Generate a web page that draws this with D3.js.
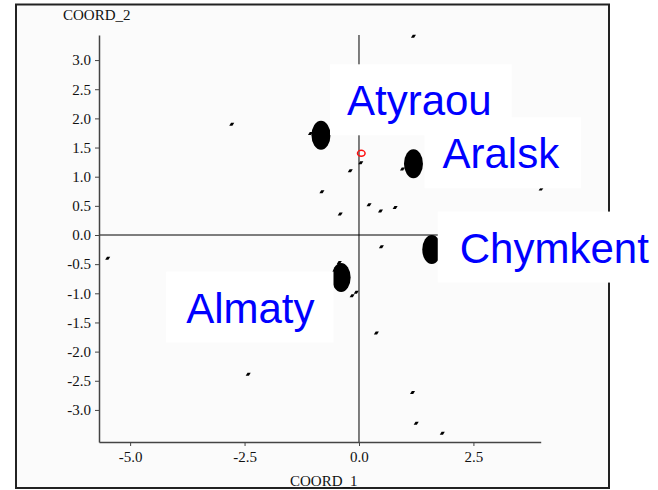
<!DOCTYPE html>
<html>
<head>
<meta charset="utf-8">
<script src="https://cdn.jsdelivr.net/npm/d3@7"></script>
<style>
  html, body { margin: 0; padding: 0; background: #ffffff; }
  svg { display: block; }
</style>
</head>
<body>
<svg id="chart" width="658" height="490"></svg>
<script>
// Object scores on the first two coordinates
const pointX = [1.19, -2.78, -0.81, -5.49, -2.42, 0.04, -0.19, -0.41, 0.22, 0.47, 0.79, 0.95,
                0.49, -0.43, -0.15, -0.06, 0.38, 1.17, 1.25, 1.82, 3.98, -1.06];
const pointY = [3.41, 1.90, 0.74, -0.40, -2.39, 1.24, 1.10, 0.36, 0.52, 0.41, 0.47, 1.13,
                -0.20, -0.47, -1.04, -0.98, -1.68, -2.70, -3.23, -3.40, 0.79, 1.74];

// Group centroids
const groupNames = ["Atyraou", "Aralsk", "Chymkent", "Almaty"];
const groupX = [-0.83, 1.19, 1.59, -0.39];
const groupY = [1.71, 1.22, -0.25, -0.73];

// Origin of the supplementary variable
const refX = [0.05];
const refY = [1.40];

// Tick values
const xTicks = [-5.0, -2.5, 0.0, 2.5];
const yTicks = [-3.0, -2.5, -2.0, -1.5, -1.0, -0.5, 0.0, 0.5, 1.0, 1.5, 2.0, 2.5, 3.0];
const xTitle = "COORD_1";
const yTitle = "COORD_2";

const svg = d3.select("#chart");

const x = d3.scaleLinear().domain([-5.68, 3.97]).range([99, 540.7]);
const y = d3.scaleLinear().domain([-3.55, 3.43]).range([442, 35]);

// outer frame
svg.append("rect")
  .attr("x", 16).attr("y", 4.5).attr("width", 593).attr("height", 483.5)
  .attr("fill", "#fbfbfb").attr("stroke", "#222").attr("stroke-width", 2);

// zero reference lines
svg.append("line")
  .attr("x1", x(0)).attr("x2", x(0)).attr("y1", y.range()[1]).attr("y2", y.range()[0])
  .attr("stroke", "#000").attr("stroke-width", 1);
svg.append("line")
  .attr("x1", x.range()[0]).attr("x2", x.range()[1]).attr("y1", y(0)).attr("y2", y(0))
  .attr("stroke", "#000").attr("stroke-width", 1);

const fmt = d => d.toFixed(1);

const yAxis = svg.append("g")
  .attr("transform", `translate(${x.range()[0]},0)`)
  .call(d3.axisLeft(y).tickValues(yTicks).tickFormat(fmt).tickSize(4).tickSizeOuter(0).tickPadding(4));
const xAxis = svg.append("g")
  .attr("transform", `translate(0,${y.range()[0]})`)
  .call(d3.axisBottom(x).tickValues(xTicks).tickFormat(fmt).tickSize(4).tickSizeOuter(0).tickPadding(5));

[yAxis, xAxis].forEach(g => {
  g.select(".domain").attr("stroke", "#444").attr("stroke-width", 1.5);
  g.selectAll(".tick line").attr("stroke", "#444");
  g.selectAll(".tick text")
    .attr("fill", "#111")
    .style("font-family", "'Liberation Serif', 'DejaVu Serif', serif")
    .style("font-size", "15px");
});

svg.append("text")
  .attr("x", 63).attr("y", 20)
  .style("font-family", "'Liberation Serif', serif").style("font-size", "15px")
  .attr("fill", "#111").text(yTitle);
svg.append("text")
  .attr("x", 290).attr("y", 486)
  .style("font-family", "'Liberation Serif', serif").style("font-size", "15px")
  .attr("fill", "#111").text(xTitle);

// individual objects: small slanted markers
const marker = "M-2.5,1.5 L-0.7,-1.5 L2.5,-1.5 L0.7,1.5 Z";
svg.append("g").selectAll("path")
  .data(pointX.map((v, i) => [v, pointY[i]]))
  .join("path")
  .attr("d", marker)
  .attr("transform", d => `translate(${x(d[0])},${y(d[1])})`)
  .attr("fill", "#000");

// group centroids
svg.append("g").selectAll("ellipse")
  .data(groupNames.map((n, i) => ({ name: n, gx: groupX[i], gy: groupY[i] })))
  .join("ellipse")
  .attr("cx", d => x(d.gx)).attr("cy", d => y(d.gy))
  .attr("rx", 9.5).attr("ry", 14.5)
  .attr("fill", "#000");

// supplementary point
svg.append("g").selectAll("ellipse")
  .data(refX.map((v, i) => [v, refY[i]]))
  .join("ellipse")
  .attr("cx", d => x(d[0])).attr("cy", d => y(d[1]))
  .attr("rx", 3.8).attr("ry", 3)
  .attr("fill", "none").attr("stroke", "#ff1010").attr("stroke-width", 1.5);

// group labels on white boxes: text offset from the centroid, box padding [left, right]
const labelLayout = {
  "Atyraou":  { dx: 26,   dy: -20, pad: [17, 20] },
  "Aralsk":   { dx: 29,   dy: 4.5, pad: [18, 22] },
  "Chymkent": { dx: 28,   dy: 13,  pad: [22, 20] },
  "Almaty":   { dx: -155, dy: 45,  pad: [20, 19] }
};
const labels = svg.append("g");
groupNames.forEach((name, i) => {
  const L = labelLayout[name];
  const tx = x(groupX[i]) + L.dx;
  const ty = y(groupY[i]) + L.dy;
  const box = labels.append("rect").attr("fill", "#ffffff");
  const t = labels.append("text")
    .attr("x", tx).attr("y", ty)
    .style("font-family", "'Liberation Sans', Arial, sans-serif")
    .style("font-size", "42px")
    .attr("fill", "#0000ff")
    .text(name);
  const w = t.node().getComputedTextLength();
  box.attr("x", tx - L.pad[0]).attr("y", ty - 51)
     .attr("width", w + L.pad[0] + L.pad[1]).attr("height", 71);
});
</script>
</body>
</html>
